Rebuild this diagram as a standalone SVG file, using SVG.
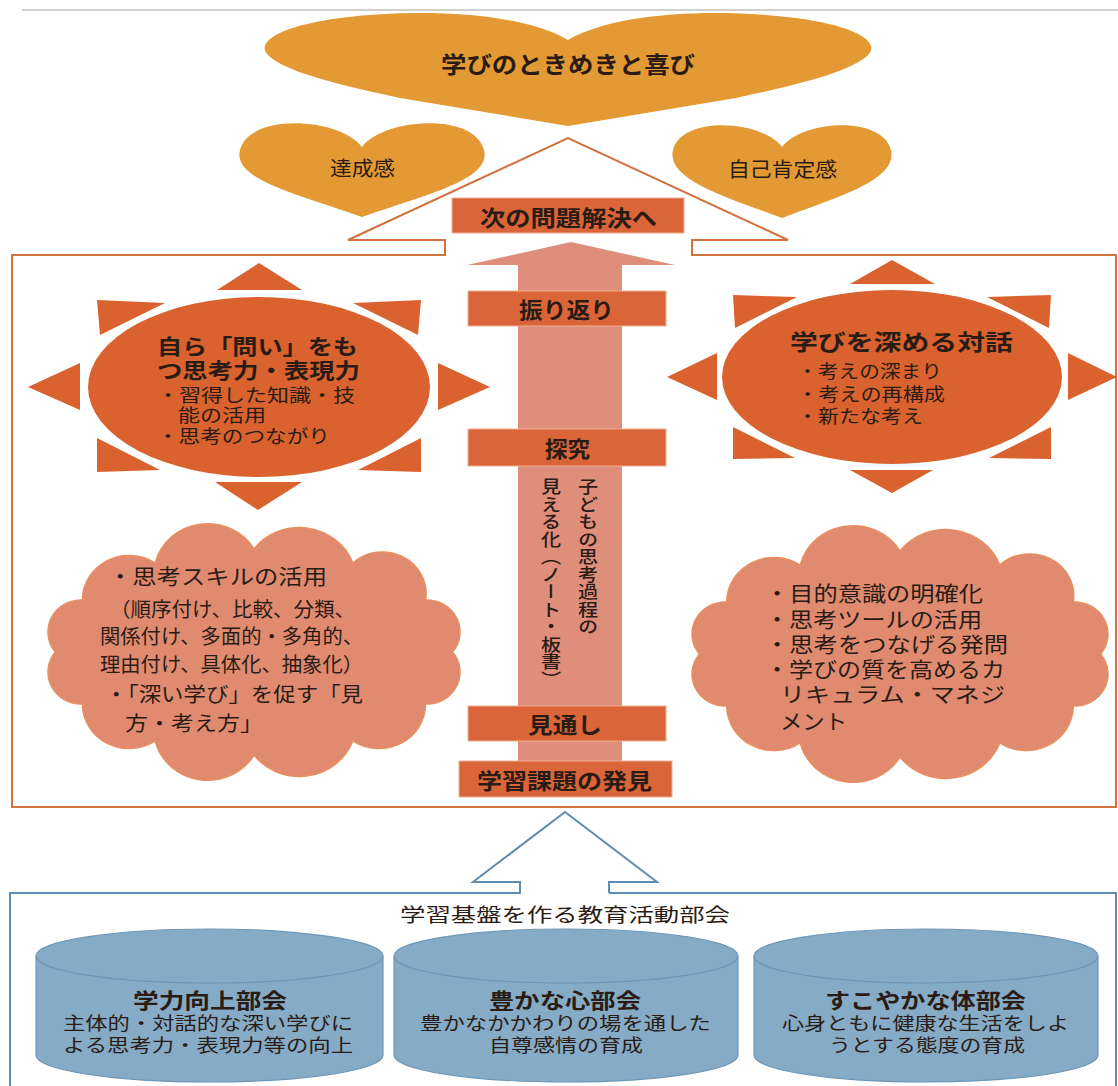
<svg xmlns="http://www.w3.org/2000/svg" width="1118" height="1086" viewBox="0 0 1118 1086">
<style>
.t{font-family:'Noto Sans CJK JP','Noto Sans CJK SC',sans-serif;fill:#2a1c14;dominant-baseline:central}
.b{font-weight:700}
.heart{fill:#E39A34}
.sun{fill:#D9622F}
.box{fill:#DA6538;stroke:#F0B090;stroke-width:1}
.cloud{fill:#E08A70;stroke:#E98E5E;stroke-width:1.5}
.cyl{fill:#85ABC6;stroke:#6E97B6;stroke-width:1.2}
.rim{fill:none;stroke:#6E97B6;stroke-width:1.2}
</style>
<defs>
<path id="cloudShape" d="M-191,0 A32,32 0 0 1 -165,-52 A45,45 0 0 1 -95,-89 A52,52 0 0 1 0,-103 A55,55 0 0 1 95,-89 A42,42 0 0 1 165,-52 A32,32 0 0 1 191,0 A32,32 0 0 1 165,52 A45,45 0 0 1 95,89 A55,55 0 0 1 0,103 A52,52 0 0 1 -95,89 A45,45 0 0 1 -165,52 A32,32 0 0 1 -191,0 Z"/>
</defs>
<rect width="1118" height="1086" fill="#ffffff"/>
<line x1="22" y1="10" x2="1118" y2="10" stroke="#d0d0d0" stroke-width="2"/>

<g id="connectors">
<path d="M445,255 L445,240 L348,240 L568,138 L788,240 L692,240 L692,255 L1116,255 L1116,807 L12,807 L12,255 Z" fill="none" stroke="#D2723F" stroke-width="2"/>
<polygon points="571,242 675,265 622,265 622,761 518,761 518,265 467,265" fill="#DF8E7B"/>
<path d="M609,893 L609,882 L657,882 L565,812 L473,882 L520,882 L520,893 L10,893 L10,1090 M609,893 L1116,893 L1116,1090" fill="none" stroke="#5E8DB3" stroke-width="2"/>
</g>

<g id="heart-main">
<path class="heart" d="M568,40 C520,12 420,8 340,18 C280,26 255,42 268,55 C285,72 340,85 400,98 L568,126 L736,98 C796,85 851,72 868,55 C881,42 856,26 796,18 C716,8 616,12 568,40 Z"/>
<text class="t b" x="441" y="63" font-size="23" textLength="254" lengthAdjust="spacingAndGlyphs">学びのときめきと喜び</text>
</g>
<g id="heart-left">
<path class="heart" d="M362,147 C340,118 250,112 240,150 C232,180 300,195 362,217 C424,195 492,180 484,150 C474,112 384,118 362,147 Z"/>
<text class="t" x="330" y="167" font-size="20" textLength="65" lengthAdjust="spacingAndGlyphs">達成感</text>
</g>
<g id="heart-right">
<path class="heart" d="M782,147 C762,120 682,115 673,150 C666,180 727,197 782,218 C837,197 898,180 891,150 C882,115 802,120 782,147 Z"/>
<text class="t" x="728" y="168" font-size="20" textLength="109" lengthAdjust="spacingAndGlyphs">自己肯定感</text>
</g>

<g id="box-next">
<rect class="box" x="452" y="198" width="232" height="35"/>
<text class="t b" x="480" y="216" font-size="22" textLength="177" lengthAdjust="spacingAndGlyphs">次の問題解決へ</text>
</g>

<g id="sun-left">
<ellipse class="sun" cx="259" cy="387" rx="171" ry="90"/>
<polygon class="sun" points="217,290 302,290 259,263"/>
<polygon class="sun" points="97,300 165,303 100,335"/>
<polygon class="sun" points="421,300 353,303 418,335"/>
<polygon class="sun" points="28,387 80,363 80,410"/>
<polygon class="sun" points="490,387 438,363 438,410"/>
<polygon class="sun" points="97,438 97,472 160,470"/>
<polygon class="sun" points="421,438 421,472 358,470"/>
<polygon class="sun" points="215,482 302,482 258,510"/>
<text class="t b" x="157" y="345" font-size="21" textLength="201" lengthAdjust="spacingAndGlyphs">自ら「問い」をも</text>
<text class="t b" x="157" y="369" font-size="21" textLength="203" lengthAdjust="spacingAndGlyphs">つ思考力・表現力</text>
<text class="t" x="157" y="394" font-size="18" textLength="198" lengthAdjust="spacingAndGlyphs">・習得した知識・技</text>
<text class="t" x="178" y="414" font-size="18" textLength="88" lengthAdjust="spacingAndGlyphs">能の活用</text>
<text class="t" x="157" y="435" font-size="18" textLength="173" lengthAdjust="spacingAndGlyphs">・思考のつながり</text>
</g>

<g id="sun-right">
<ellipse class="sun" cx="892" cy="377" rx="170" ry="87"/>
<polygon class="sun" points="850,284 935,284 892,260"/>
<polygon class="sun" points="733,295 797,297 735,328"/>
<polygon class="sun" points="1051,295 987,297 1049,328"/>
<polygon class="sun" points="667,377 717,353 717,400"/>
<polygon class="sun" points="1117,377 1068,353 1068,400"/>
<polygon class="sun" points="733,427 733,459 795,458"/>
<polygon class="sun" points="1051,427 1051,459 989,458"/>
<polygon class="sun" points="850,470 933,470 892,493"/>
<text class="t b" x="790" y="340" font-size="22" textLength="223" lengthAdjust="spacingAndGlyphs">学びを深める対話</text>
<text class="t" x="797" y="370" font-size="18" textLength="145" lengthAdjust="spacingAndGlyphs">・考えの深まり</text>
<text class="t" x="797" y="393" font-size="18" textLength="148" lengthAdjust="spacingAndGlyphs">・考えの再構成</text>
<text class="t" x="797" y="415" font-size="18" textLength="126" lengthAdjust="spacingAndGlyphs">・新たな考え</text>
</g>

<g id="box-reflect">
<rect class="box" x="468" y="291" width="198" height="35"/>
<text class="t b" x="519" y="308" font-size="22" textLength="95" lengthAdjust="spacingAndGlyphs">振り返り</text>
</g>
<g id="box-inquiry">
<rect class="box" x="468" y="429" width="198" height="37"/>
<text class="t b" x="545" y="447" font-size="22" textLength="45" lengthAdjust="spacingAndGlyphs">探究</text>
</g>
<g id="visual-note" transform="matrix(1.15,0,0,1,-85.4,0)">
<text class="t" x="585.6" y="478" font-size="17.5" font-weight="500" style="writing-mode:vertical-rl">子どもの思考過程の</text>
<text class="t" x="553.4" y="478" font-size="17.5" font-weight="500" style="writing-mode:vertical-rl">見える化（ノート・板書）</text>
</g>
<g id="box-outlook">
<rect class="box" x="468" y="706" width="198" height="35"/>
<text class="t b" x="528" y="723" font-size="22" textLength="74" lengthAdjust="spacingAndGlyphs">見通し</text>
</g>
<g id="box-discover">
<rect class="box" x="459" y="761" width="213" height="36"/>
<text class="t b" x="477" y="779" font-size="22" textLength="175" lengthAdjust="spacingAndGlyphs">学習課題の発見</text>
</g>

<g id="cloud-left">
<use href="#cloudShape" class="cloud" transform="translate(254,652) scale(1.04,1)"/>
<text class="t" x="108" y="575" font-size="21" textLength="219" lengthAdjust="spacingAndGlyphs">・思考スキルの活用</text>
<text class="t" x="110" y="608" font-size="20" textLength="245" lengthAdjust="spacingAndGlyphs">（順序付け、比較、分類、</text>
<text class="t" x="100" y="635" font-size="20" textLength="263" lengthAdjust="spacingAndGlyphs">関係付け、多面的・多角的、</text>
<text class="t" x="100" y="663" font-size="20" textLength="263" lengthAdjust="spacingAndGlyphs">理由付け、具体化、抽象化）</text>
<text class="t" x="105" y="693" font-size="20" textLength="258" lengthAdjust="spacingAndGlyphs">・「深い学び」を促す「見</text>
<text class="t" x="125" y="722" font-size="20" textLength="138" lengthAdjust="spacingAndGlyphs">方・考え方」</text>
</g>

<g id="cloud-right">
<use href="#cloudShape" class="cloud" transform="translate(900,654) scale(1.05,1)"/>
<text class="t" x="765" y="592" font-size="21" textLength="218" lengthAdjust="spacingAndGlyphs">・目的意識の明確化</text>
<text class="t" x="765" y="618" font-size="21" textLength="217" lengthAdjust="spacingAndGlyphs">・思考ツールの活用</text>
<text class="t" x="765" y="643" font-size="21" textLength="243" lengthAdjust="spacingAndGlyphs">・思考をつなげる発問</text>
<text class="t" x="765" y="668" font-size="21" textLength="240" lengthAdjust="spacingAndGlyphs">・学びの質を高めるカ</text>
<text class="t" x="780" y="693" font-size="21" textLength="225" lengthAdjust="spacingAndGlyphs">リキュラム・マネジ</text>
<text class="t" x="780" y="720" font-size="21" textLength="67" lengthAdjust="spacingAndGlyphs">メント</text>
</g>

<g id="base-title">
<text class="t" x="400" y="913" font-size="19" textLength="330" lengthAdjust="spacingAndGlyphs">学習基盤を作る教育活動部会</text>
</g>

<g id="cyl-academic">
<path class="cyl" d="M36,956 L36,1055 A173.5,27 0 0 0 383,1055 L383,956 A173.5,27 0 0 0 36,956 Z"/>
<path class="rim" d="M36,956 A173.5,27 0 0 0 383,956"/>
<text class="t b" x="133" y="999" font-size="21" textLength="154" lengthAdjust="spacingAndGlyphs">学力向上部会</text>
<text class="t" x="63" y="1022" font-size="18" textLength="290" lengthAdjust="spacingAndGlyphs">主体的・対話的な深い学びに</text>
<text class="t" x="63" y="1044" font-size="18" textLength="290" lengthAdjust="spacingAndGlyphs">よる思考力・表現力等の向上</text>
</g>
<g id="cyl-heart">
<path class="cyl" d="M394,956 L394,1055 A172,27 0 0 0 738,1055 L738,956 A172,27 0 0 0 394,956 Z"/>
<path class="rim" d="M394,956 A172,27 0 0 0 738,956"/>
<text class="t b" x="489" y="999" font-size="21" textLength="152" lengthAdjust="spacingAndGlyphs">豊かな心部会</text>
<text class="t" x="420" y="1022" font-size="18" textLength="291" lengthAdjust="spacingAndGlyphs">豊かなかかわりの場を通した</text>
<text class="t" x="489" y="1044" font-size="18" textLength="154" lengthAdjust="spacingAndGlyphs">自尊感情の育成</text>
</g>
<g id="cyl-body">
<path class="cyl" d="M754,956 L754,1055 A172,27 0 0 0 1098,1055 L1098,956 A172,27 0 0 0 754,956 Z"/>
<path class="rim" d="M754,956 A172,27 0 0 0 1098,956"/>
<text class="t b" x="825" y="999" font-size="21" textLength="201" lengthAdjust="spacingAndGlyphs">すこやかな体部会</text>
<text class="t" x="782" y="1022" font-size="18" textLength="287" lengthAdjust="spacingAndGlyphs">心身ともに健康な生活をしよ</text>
<text class="t" x="829" y="1044" font-size="18" textLength="196" lengthAdjust="spacingAndGlyphs">うとする態度の育成</text>
</g>
</svg>
